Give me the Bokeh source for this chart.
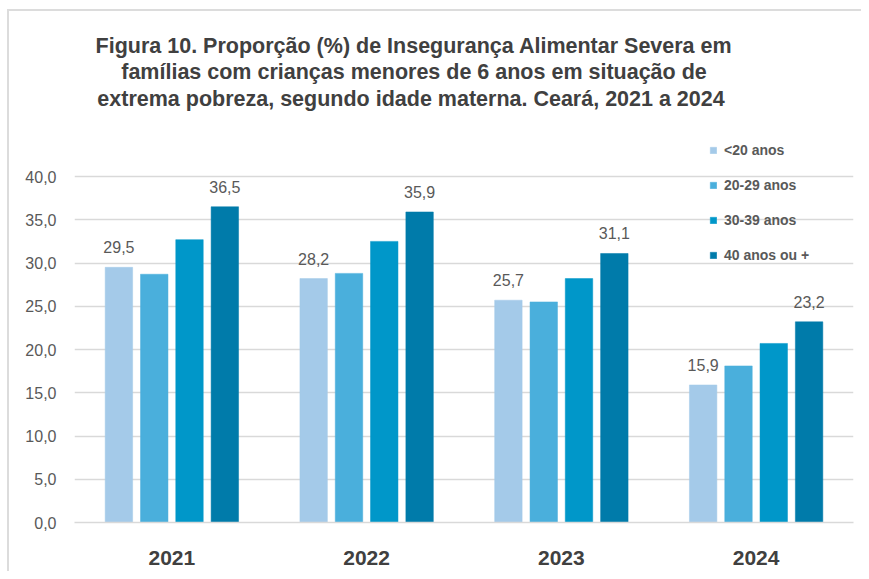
from bokeh.plotting import figure
from bokeh.models import (FactorRange, Range1d, ColumnDataSource, LabelSet, Label,
                          Legend, LegendItem, FixedTicker)
from bokeh.transform import dodge
from bokeh.embed import file_html
from bokeh.resources import INLINE
from bokeh.core.properties import value

years = ["2021", "2022", "2023", "2024"]
series_names = ["<20 anos", "20-29 anos", "30-39 anos", "40 anos ou +"]
menos20 = [29.5, 28.2, 25.7, 15.9]
de20a29 = [28.7, 28.8, 25.5, 18.1]
de30a39 = [32.7, 32.5, 28.2, 20.7]
mais40 = [36.5, 35.9, 31.1, 23.2]
y_ticks = [0, 5, 10, 15, 20, 25, 30, 35, 40]
title_lines = [
    "Figura 10. Proporção (%) de Insegurança Alimentar Severa em",
    "famílias com crianças menores de 6 anos em situação de",
    "extrema pobreza, segundo idade materna. Ceará,  2021 a 2024",
]
colors = ["#A4CAE9", "#4AAFDC", "#0097C9", "#007BAA"]


def fmt(v):
    return f"{v:.1f}".replace(".", ",")


src = ColumnDataSource(dict(
    year=years,
    s0=menos20, s1=de20a29, s2=de30a39, s3=mais40,
    t0=[fmt(v) for v in menos20], t3=[fmt(v) for v in mais40],
))

# frame spans from the top of the canvas; 0..40 occupies the lower 346 px
p = figure(width=861, height=571, x_range=FactorRange(*years, range_padding=0),
           y_range=Range1d(0, 40 * 522 / 346), output_backend="svg", toolbar_location=None,
           min_border_left=74, min_border_right=8, min_border_top=0, min_border_bottom=49,
           background_fill_alpha=0, border_fill_alpha=0)
p.outline_line_color = None
p.styles = {
    "background-color": "white",
    "background-image": "linear-gradient(#dcdcdc, #dcdcdc), linear-gradient(#dcdcdc, #dcdcdc)",
    "background-size": "100% 2px, 2px 100%",
    "background-position": "7px 9px, 7px 9px",
    "background-repeat": "no-repeat",
}

offsets = [-0.272, -0.0905, 0.0905, 0.272]
renderers = []
for i in range(4):
    r = p.vbar(x=dodge("year", offsets[i], range=p.x_range), top=f"s{i}", width=0.141,
               source=src, fill_color=colors[i], line_color=colors[i], line_width=0.5)
    renderers.append(r)

for i in (0, 3):
    p.add_layout(LabelSet(x=dodge("year", offsets[i], range=p.x_range), y=f"s{i}", text=f"t{i}",
                          source=src, text_align="center", text_baseline="middle", y_offset=20,
                          text_font=value("Liberation Sans"), text_font_size="16px",
                          text_color="#595959"))

# axes
p.xgrid.grid_line_color = None
p.ygrid.grid_line_color = "#d9d9d9"
p.ygrid.grid_line_width = 1.5
p.yaxis.ticker = FixedTicker(ticks=y_ticks)
p.ygrid.ticker = FixedTicker(ticks=y_ticks)
p.yaxis.major_label_overrides = {t: fmt(t) for t in y_ticks}
p.yaxis.axis_line_color = None
p.yaxis.major_tick_line_color = None
p.yaxis.minor_tick_line_color = None
p.yaxis.major_label_standoff = 12
p.yaxis.major_label_text_font = "Liberation Sans"
p.yaxis.major_label_text_font_size = "16px"
p.yaxis.major_label_text_color = "#595959"

p.xaxis.axis_line_color = "#d9d9d9"
p.xaxis.axis_line_width = 1.5
p.xaxis.major_tick_line_color = None
p.xaxis.minor_tick_line_color = None
p.xaxis.major_label_standoff = 22
p.xaxis.major_label_text_font = "Liberation Sans"
p.xaxis.major_label_text_font_style = "bold"
p.xaxis.major_label_text_font_size = "21px"
p.xaxis.major_label_text_color = "#404040"

legend = Legend(items=[LegendItem(label=series_names[i], renderers=[renderers[i]]) for i in range(4)],
                location=(635, 257), orientation="vertical",
                glyph_width=8, glyph_height=8, label_height=20, spacing=15,
                padding=0, margin=0, label_standoff=7,
                background_fill_alpha=0, border_line_color=None,
                label_text_font="Liberation Sans", label_text_font_style="bold",
                label_text_font_size="14px", label_text_color="#595959")
p.add_layout(legend, "center")

for k, line in enumerate(title_lines):
    p.add_layout(Label(x=339.5, y=477 - 26.5 * k, x_units="screen", y_units="screen",
                       text=line, text_align="center", text_baseline="middle",
                       text_font="Liberation Sans", text_font_style="bold",
                       text_font_size="21.5px", text_color="#404040"))

open("out.html", "w").write(file_html(p, INLINE))
